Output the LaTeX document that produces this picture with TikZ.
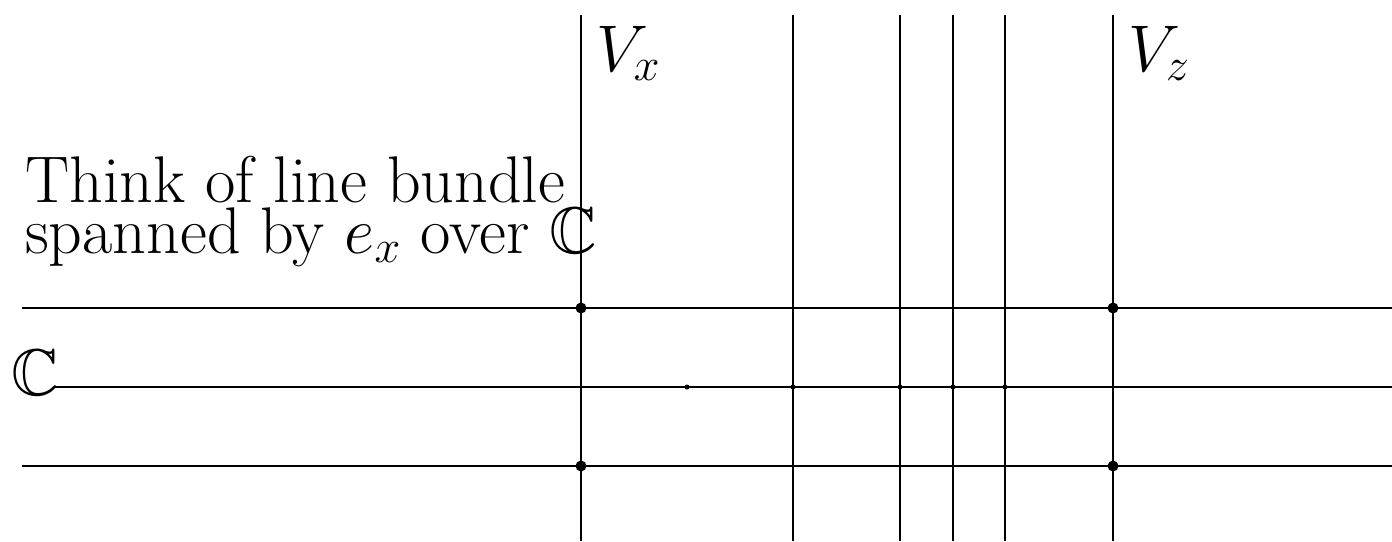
\RequirePackage{fix-cm}
\documentclass[tikz,border=0pt]{standalone}
\usepackage{amssymb}
\begin{document}
\begin{tikzpicture}[x=1pt,y=-1pt,
  ln/.style={line width=1.1pt,black},
  bigdot/.style={circle,fill=black,inner sep=0pt,minimum size=11pt},
  smalldot/.style={circle,fill=black,inner sep=0pt,minimum size=5pt},
  lbl/.style={inner sep=0pt,font=\fontsize{66}{50}\selectfont}]
\useasboundingbox (0,0) rectangle (1392,541);
% vertical line ends
\foreach \n/\x in {a/581,b/793,c/900,d/953,e/1005,f/1113}{
  \coordinate (\n t) at (\x,15);
  \coordinate (\n b) at (\x,541);
}
% horizontal line ends
\coordinate (h1l) at (22,308); \coordinate (h1r) at (1392,308);
\coordinate (h2l) at (55,387); \coordinate (h2r) at (1392,387);
\coordinate (h3l) at (22,466); \coordinate (h3r) at (1392,466);
\foreach \n in {a,b,c,d,e,f}{ \draw[ln] (\n t) -- (\n b); }
\draw[ln] (h1l) -- (h1r);
\draw[ln] (h2l) -- (h2r);
\draw[ln] (h3l) -- (h3r);
% dots
\node[bigdot] (p1) at (581,308) {};
\node[bigdot] (p2) at (581,466) {};
\node[bigdot] (p3) at (1113,308) {};
\node[bigdot] (p4) at (1113,466) {};
\node[smalldot] (s1) at (687,387) {};
\node[smalldot] (s2) at (793,387) {};
\node[smalldot] (s3) at (900,387) {};
\node[smalldot] (s4) at (953,387) {};
\node[smalldot] (s5) at (1005,387) {};
% labels
\node[lbl,anchor=base west] (t1) at (25,202) {Think of line bundle};
\node[lbl,anchor=base west] (t2) at (25,253) {spanned by $e_x$ over $\mathbb{C}$};
\node[lbl,anchor=base west] (cc) at (11,395) {$\mathbb{C}$};
\node[lbl,anchor=base west] (vx) at (596,71) {$V_x$};
\node[lbl,anchor=base west] (vz) at (1128,71) {$V_z$};
\end{tikzpicture}
\end{document}
